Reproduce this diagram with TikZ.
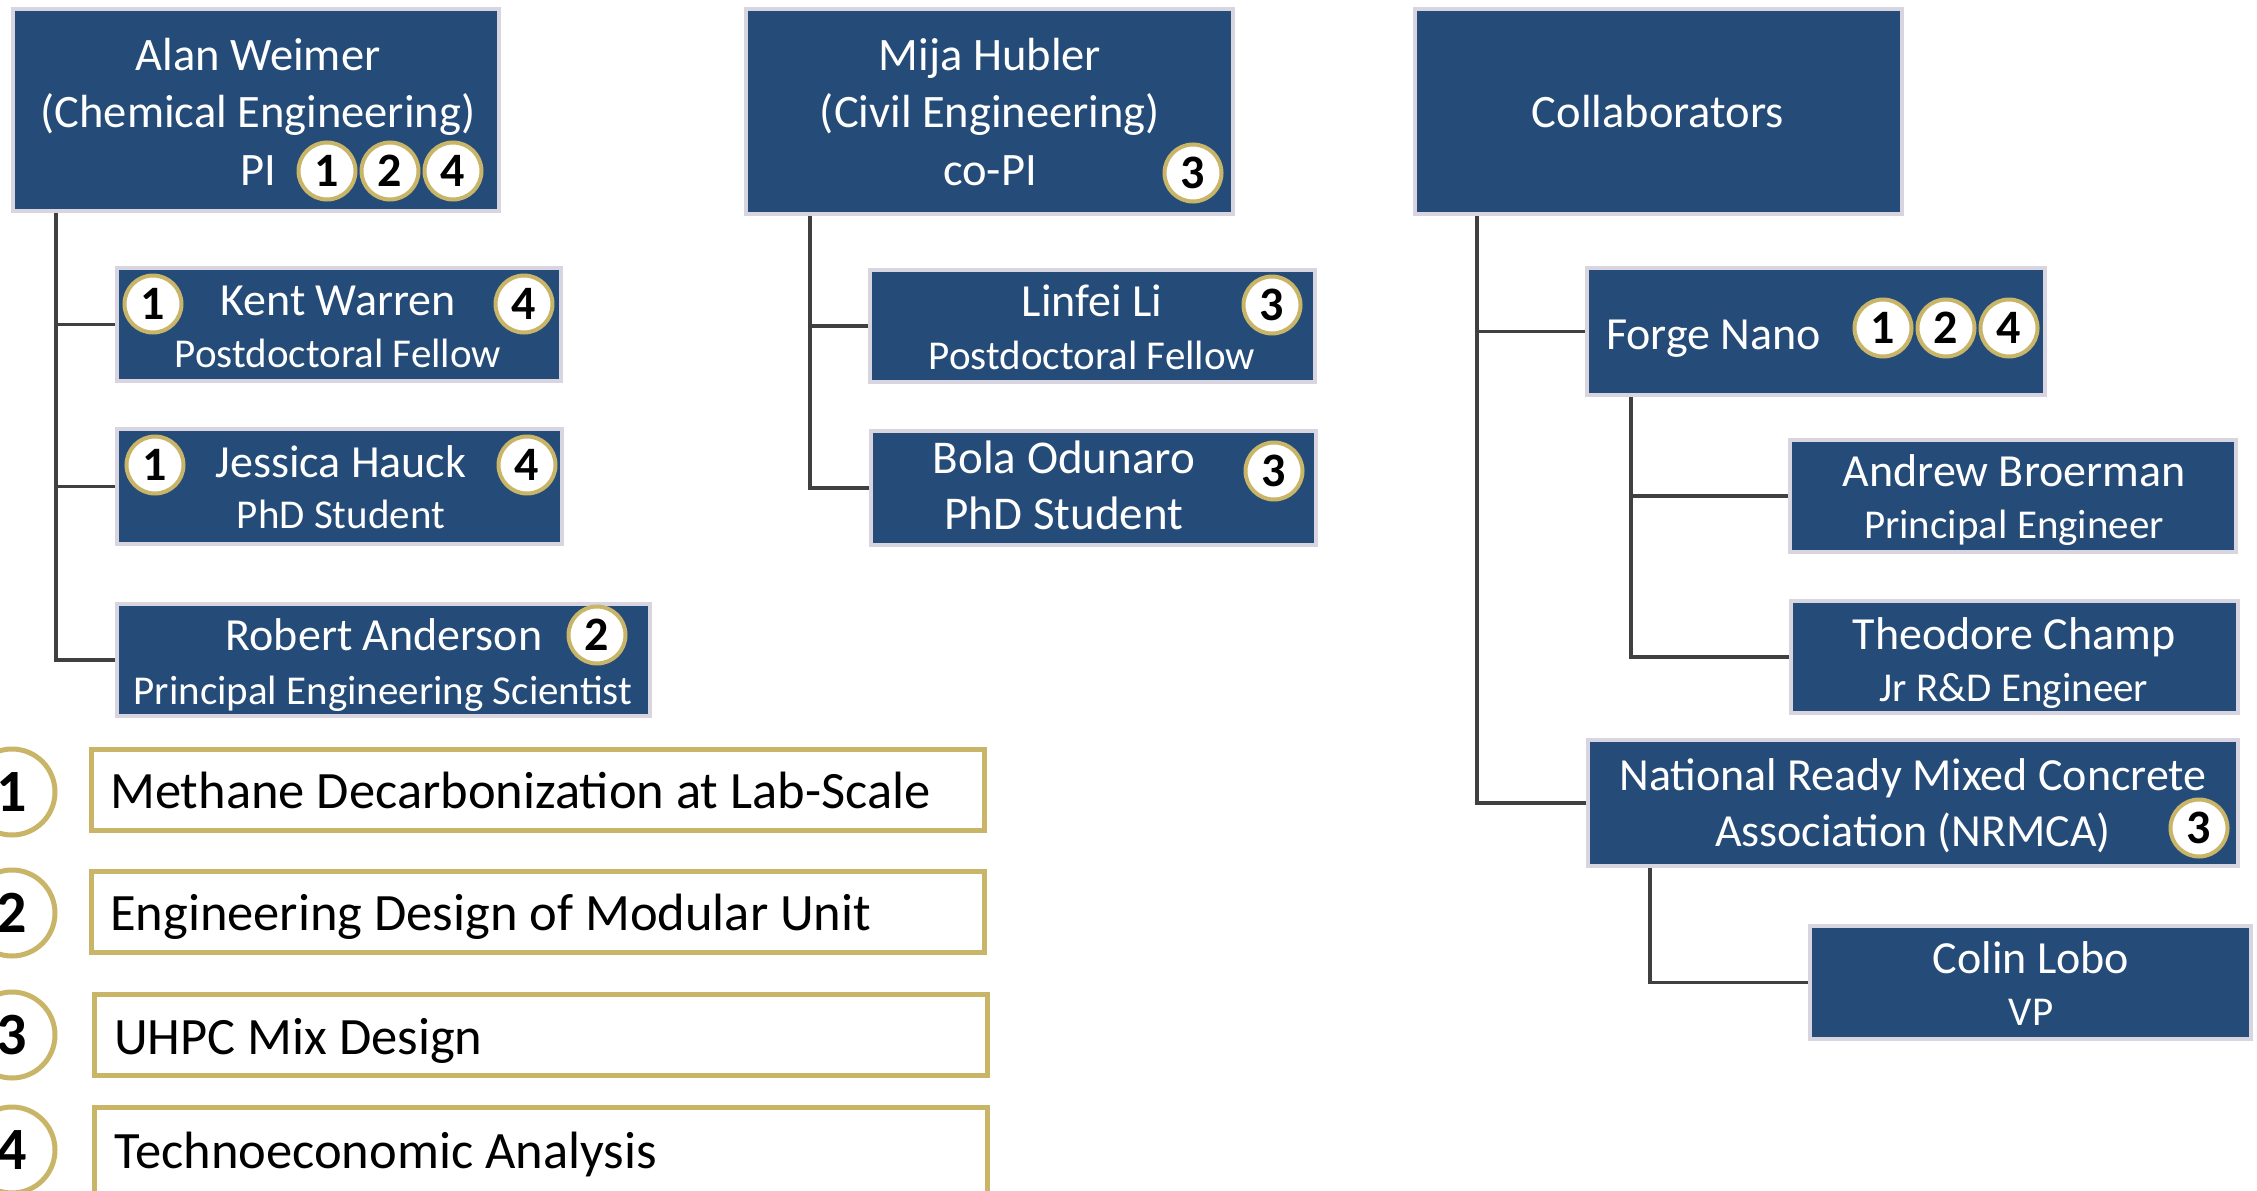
\documentclass[tikz,border=0pt]{standalone}
\usepackage{fontspec}
\setmainfont{Carlito}
\definecolor{navy}{RGB}{37,76,121}
\definecolor{boxedge}{RGB}{216,212,224}
\definecolor{gold}{RGB}{201,181,104}
\definecolor{connc}{RGB}{64,64,64}
\newcommand{\fsz}[1]{\fontsize{#1}{#1}\selectfont}
\begin{document}
\begin{tikzpicture}[x=1pt,y=-1pt,
  box/.style={rectangle, draw=boxedge, line width=4pt, fill=navy, inner sep=0pt},
  legbox/.style={rectangle, draw=gold, line width=5pt, fill=white, inner sep=0pt, minimum width=893pt, minimum height=81pt},
  wt/.style={text=white, inner sep=0pt, anchor=base},
  topt/.style={wt, font=\fsz{46.5}},
  namet/.style={wt, font=\fsz{46}},
  titlet/.style={wt, font=\fsz{41}},
  legt/.style={text=black, inner sep=0pt, anchor=base west, font=\fsz{52.5}},
  badge/.style={circle, draw=gold, line width=4pt, fill=white, inner sep=0pt, minimum size=57pt, font=\bfseries\fsz{48}, text=black},
  legcirc/.style={circle, draw=gold, line width=5pt, fill=white, inner sep=0pt, minimum size=86pt, font=\bfseries\fsz{60}, text=black},
  conn/.style={draw=connc, line width=3.2pt}
]
\useasboundingbox (0,0) rectangle (2257,1191);

% bus coordinates
\coordinate (abus) at (56,0);
\coordinate (mbus) at (810,0);
\coordinate (cbus) at (1477,0);
\coordinate (fbus) at (1631,0);
\coordinate (nbus) at (1650,0);

% boxes
\node[box, minimum width=486pt, minimum height=202pt] (alan) at (256,110) {};
\node[box, minimum width=487pt, minimum height=205pt] (mija) at (989.5,111.5) {};
\node[box, minimum width=487pt, minimum height=205pt] (collab) at (1658.5,111.5) {};
\node[box, minimum width=444pt, minimum height=113pt] (kent) at (339,324.5) {};
\node[box, minimum width=445pt, minimum height=115pt] (jess) at (339.5,486.5) {};
\node[box, minimum width=533pt, minimum height=112pt] (rob) at (383.5,660) {};
\node[box, minimum width=445pt, minimum height=112pt] (linfei) at (1092.5,326) {};
\node[box, minimum width=445pt, minimum height=114pt] (bola) at (1093.5,488) {};
\node[box, minimum width=458pt, minimum height=127pt] (forge) at (1816,331.5) {};
\node[box, minimum width=446pt, minimum height=112pt] (andrew) at (2013,496) {};
\node[box, minimum width=447pt, minimum height=112pt] (theo) at (2014.5,657) {};
\node[box, minimum width=650pt, minimum height=126pt] (nrmca) at (1913,803) {};
\node[box, minimum width=441pt, minimum height=113pt] (colin) at (2030.5,982.5) {};

% connectors
\draw[conn] (alan.south -| abus) |- (rob.west);
\draw[conn] (kent.west -| abus) -- (kent.west);
\draw[conn] (jess.west -| abus) -- (jess.west);
\draw[conn] (mija.south -| mbus) |- (bola.west);
\draw[conn] (linfei.west -| mbus) -- (linfei.west);
\draw[conn] (collab.south -| cbus) |- (nrmca.west);
\draw[conn] (forge.west -| cbus) -- (forge.west);
\draw[conn] (forge.south -| fbus) |- (theo.west);
\draw[conn] (andrew.west -| fbus) -- (andrew.west);
\draw[conn] (nrmca.south -| nbus) |- (colin.west);

% texts
\node[topt] (alanT1) at (258,70) {Alan Weimer};
\node[topt] (alanT2) at (258,127) {(Chemical Engineering)};
\node[topt] (alanT3) at (258,185) {PI};
\node[topt] (mijaT1) at (990,70) {Mija Hubler};
\node[topt] (mijaT2) at (990,127) {(Civil Engineering)};
\node[topt] (mijaT3) at (990,185) {co-PI};
\node[topt] (collabT) at (1658,127) {Collaborators};

\node[namet] (kentT1) at (338,315) {Kent Warren};
\node[titlet] (kentT2) at (338,367) {Postdoctoral Fellow};
\node[namet] (jessT1) at (341,477) {Jessica Hauck};
\node[titlet] (jessT2) at (341,528) {PhD Student};
\node[namet] (robT1) at (384,650) {Robert Anderson};
\node[titlet] (robT2) at (383,704) {Principal Engineering Scientist};
\node[namet] (linfeiT1) at (1092,316) {Linfei Li};
\node[titlet] (linfeiT2) at (1092,369) {Postdoctoral Fellow};
\node[wt, font=\fsz{47}] (bolaT1) at (1064,473) {Bola Odunaro};
\node[wt, font=\fsz{47}] (bolaT2) at (1064,529) {PhD Student};
\node[wt, font=\fsz{46}, anchor=base west] (forgeT) at (1606,349) {Forge Nano};
\node[namet] (andrewT1) at (2014,486) {Andrew Broerman};
\node[titlet] (andrewT2) at (2014,538) {Principal Engineer};
\node[namet] (theoT1) at (2014,649) {Theodore Champ};
\node[titlet] (theoT2) at (2014,701) {Jr R\&D Engineer};
\node[namet] (nrmcaT1) at (1913,790) {National Ready Mixed Concrete};
\node[namet] (nrmcaT2) at (1913,846) {Association (NRMCA)};
\node[namet] (colinT1) at (2031,973) {Colin Lobo};
\node[titlet] (colinT2) at (2031,1025) {VP};

% badges
\node[badge] (alanB1) at (327,171) {1};
\node[badge] (alanB2) at (390,171) {2};
\node[badge] (alanB4) at (453,171) {4};
\node[badge] (kentB1) at (153,304) {1};
\node[badge] (kentB4) at (524,304) {4};
\node[badge] (jessB1) at (155,465) {1};
\node[badge] (jessB4) at (527,465) {4};
\node[badge] (robB2) at (597,635) {2};
\node[badge] (mijaB3) at (1193,173) {3};
\node[badge] (linfeiB3) at (1272,305) {3};
\node[badge] (bolaB3) at (1274,471) {3};
\node[badge] (forgeB1) at (1883,328) {1};
\node[badge] (forgeB2) at (1946,328) {2};
\node[badge] (forgeB4) at (2009,328) {4};
\node[badge] (nrmcaB3) at (2199,828) {3};

% legend
\node[legbox] (leg1) at (537.5,790) {};
\node[legbox] (leg2) at (537.5,911.5) {};
\node[legbox] (leg3) at (541,1035) {};
\node[legbox, minimum height=86pt] (leg4) at (541,1150) {};
\node[legcirc] (lc1) at (12,792) {1};
\node[legcirc] (lc2) at (12,913) {2};
\node[legcirc] (lc3) at (12,1035) {3};
\node[legcirc] (lc4) at (12,1150) {4};
\node[legt] (legT1) at (110,808) {Methane Decarbonization at Lab-Scale};
\node[legt] (legT2) at (110,930) {Engineering Design of Modular Unit};
\node[legt] (legT3) at (114,1054) {UHPC Mix Design};
\node[legt] (legT4) at (114,1168) {Technoeconomic Analysis};
\end{tikzpicture}
\end{document}
